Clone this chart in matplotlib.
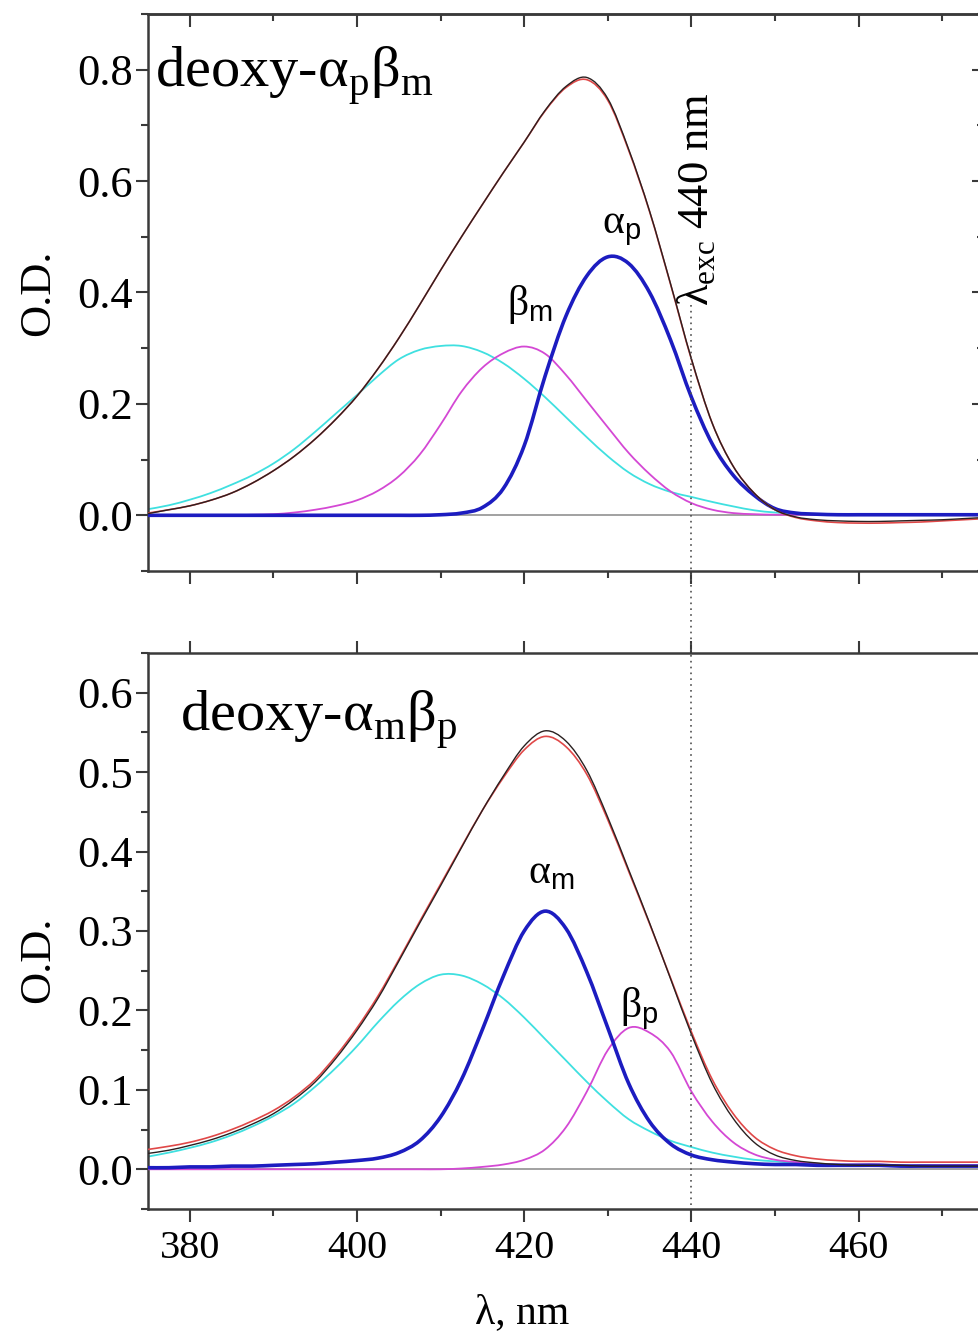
import numpy as np
import matplotlib
matplotlib.use("Agg")
import matplotlib.pyplot as plt
from matplotlib.ticker import MultipleLocator
from matplotlib.lines import Line2D
from matplotlib.path import Path
from matplotlib.patches import PathPatch
from matplotlib.transforms import blended_transform_factory

plt.rcParams['font.family'] = ['Liberation Serif', 'DejaVu Serif']
plt.rcParams['mathtext.fontset'] = 'custom'
plt.rcParams['mathtext.rm'] = 'Liberation Serif'
plt.rcParams['mathtext.sf'] = 'Liberation Sans'

# comprimento de onda (nm), passo de 2.5 nm
wl = np.arange(375, 475.1, 2.5)

# painel superior: deoxy-alpha_p beta_m
top_exp = [0.003, 0.010, 0.017, 0.027, 0.040, 0.058, 0.080, 0.106, 0.137, 0.173,
           0.214, 0.263, 0.318, 0.378, 0.440, 0.500, 0.558, 0.615, 0.670, 0.727,
           0.770, 0.786, 0.748, 0.657, 0.546, 0.416, 0.281, 0.165, 0.088, 0.040,
           0.010, -0.003, -0.008, -0.010, -0.011, -0.011, -0.010, -0.009, -0.008, -0.006, -0.004]
top_fit = [0.004, 0.010, 0.017, 0.027, 0.040, 0.058, 0.080, 0.106, 0.137, 0.173,
           0.214, 0.263, 0.318, 0.378, 0.440, 0.500, 0.558, 0.615, 0.670, 0.726,
           0.768, 0.782, 0.745, 0.655, 0.545, 0.415, 0.280, 0.165, 0.088, 0.040,
           0.010, -0.004, -0.010, -0.013, -0.014, -0.014, -0.013, -0.012, -0.010, -0.008, -0.006]
top_cyan = [0.011, 0.018, 0.028, 0.040, 0.055, 0.072, 0.093, 0.119, 0.150, 0.183,
            0.216, 0.250, 0.280, 0.297, 0.304, 0.304, 0.293, 0.273, 0.245, 0.212,
            0.176, 0.140, 0.106, 0.077, 0.056, 0.042, 0.033, 0.024, 0.016, 0.009,
            0.005, 0.003, 0.002, 0.001, 0.001, 0.001, 0.001, 0.001, 0.001, 0.001, 0.001]
top_mag = [0.0, 0.0, 0.0, 0.0, 0.0, 0.001, 0.002, 0.005, 0.010, 0.017,
           0.027, 0.044, 0.070, 0.109, 0.163, 0.222, 0.265, 0.291, 0.303, 0.290,
           0.252, 0.205, 0.158, 0.112, 0.074, 0.043, 0.022, 0.010, 0.004, 0.002,
           0.001, 0.001, 0.001, 0.001, 0.001, 0.001, 0.001, 0.001, 0.001, 0.001, 0.001]
top_blue = [0.0, 0.0, 0.0, 0.0, 0.0, 0.0, 0.0, 0.0, 0.0, 0.0,
            0.0, 0.0, 0.0, 0.0, 0.001, 0.004, 0.014, 0.048, 0.125, 0.250,
            0.358, 0.430, 0.464, 0.452, 0.400, 0.315, 0.212, 0.128, 0.072, 0.036,
            0.012, 0.004, 0.002, 0.001, 0.001, 0.001, 0.001, 0.001, 0.001, 0.001, 0.001]

# painel inferior: deoxy-alpha_m beta_p
bot_exp = [0.020, 0.024, 0.030, 0.037, 0.046, 0.057, 0.070, 0.088, 0.110, 0.140,
           0.175, 0.215, 0.262, 0.310, 0.357, 0.405, 0.452, 0.495, 0.533, 0.552,
           0.539, 0.502, 0.443, 0.377, 0.310, 0.240, 0.170, 0.108, 0.064, 0.034,
           0.018, 0.011, 0.008, 0.006, 0.005, 0.005, 0.005, 0.004, 0.004, 0.004, 0.004]
bot_fit = [0.025, 0.029, 0.034, 0.041, 0.050, 0.061, 0.074, 0.091, 0.113, 0.143,
           0.178, 0.218, 0.264, 0.312, 0.359, 0.406, 0.452, 0.493, 0.528, 0.545,
           0.532, 0.497, 0.440, 0.375, 0.309, 0.241, 0.173, 0.113, 0.070, 0.041,
           0.025, 0.017, 0.013, 0.011, 0.010, 0.010, 0.009, 0.009, 0.009, 0.009, 0.009]
bot_cyan = [0.016, 0.021, 0.027, 0.034, 0.043, 0.054, 0.067, 0.083, 0.104, 0.128,
            0.155, 0.185, 0.212, 0.233, 0.245, 0.244, 0.233, 0.215, 0.191, 0.164,
            0.137, 0.110, 0.085, 0.063, 0.048, 0.036, 0.028, 0.021, 0.016, 0.012,
            0.010, 0.008, 0.007, 0.006, 0.005, 0.005, 0.005, 0.005, 0.004, 0.004, 0.004]
bot_blue = [0.002, 0.002, 0.003, 0.003, 0.004, 0.004, 0.005, 0.006, 0.007, 0.009,
            0.011, 0.014, 0.021, 0.036, 0.066, 0.113, 0.176, 0.243, 0.300, 0.325,
            0.303, 0.248, 0.178, 0.108, 0.060, 0.032, 0.018, 0.012, 0.009, 0.007,
            0.006, 0.006, 0.005, 0.005, 0.005, 0.005, 0.004, 0.004, 0.004, 0.004, 0.004]
bot_mag = [0.0, 0.0, 0.0, 0.0, 0.0, 0.0, 0.0, 0.0, 0.0, 0.0,
           0.0, 0.0, 0.0, 0.0, 0.0, 0.001, 0.003, 0.006, 0.012, 0.025,
           0.053, 0.098, 0.150, 0.178, 0.172, 0.148, 0.098, 0.060, 0.034, 0.019,
           0.012, 0.009, 0.007, 0.006, 0.006, 0.006, 0.005, 0.005, 0.005, 0.005, 0.005]

lam_exc = 440

c_exp = '#2a2020'
c_fit = '#e04848'
c_cyan = '#3fe0e0'
c_mag = '#d448d4'
c_blue = '#1c1cc0'
c_axis = '#3a3a3a'

fig = plt.figure(figsize=(9.79, 13.42), dpi=100)
ax1 = fig.add_axes([148/979, 1 - 571/1342, 836/979, 557/1342])
ax2 = fig.add_axes([148/979, 1 - 1209/1342, 836/979, 556/1342])


def curva(ax, x, y, **kw):
    # curva suave passando pelos pontos lidos (Catmull-Rom -> Bezier)
    pts = np.column_stack([np.asarray(x, float), np.asarray(y, float)])
    ext = np.vstack([pts[0], pts, pts[-1]])
    verts = [pts[0]]
    codes = [Path.MOVETO]
    for i in range(len(pts) - 1):
        p0, p1, p2, p3 = ext[i], ext[i + 1], ext[i + 2], ext[i + 3]
        verts += [p1 + (p2 - p0) / 6, p2 - (p3 - p1) / 6, p2]
        codes += [Path.CURVE4] * 3
    ax.add_patch(PathPatch(Path(verts, codes), fill=False, capstyle='round', **kw))


def desenha(ax, exp, fit, cyan, mag, blue):
    ax.axhline(0, color='#9a9a9a', lw=1.3, zorder=1)
    curva(ax, wl, cyan, edgecolor=c_cyan, lw=1.3, zorder=2)
    curva(ax, wl, mag, edgecolor=c_mag, lw=1.3, zorder=3)
    curva(ax, wl, blue, edgecolor=c_blue, lw=2.6, zorder=4)
    curva(ax, wl, fit, edgecolor=c_fit, lw=1.2, zorder=5)
    curva(ax, wl, exp, edgecolor=c_exp, lw=1.0, zorder=6)
    ax.set_xlim(375, 475)
    ax.xaxis.set_major_locator(MultipleLocator(20))
    ax.xaxis.set_minor_locator(MultipleLocator(10))
    for s in ax.spines.values():
        s.set_color(c_axis)
        s.set_linewidth(1.8)
    ax.tick_params(which='both', direction='out', color=c_axis, width=1.5)
    ax.tick_params(which='major', length=9)
    ax.tick_params(which='minor', length=5)
    ax.tick_params(axis='x', labelsize=29, pad=6)
    ax.tick_params(axis='y', labelsize=32, pad=2)
    ax.set_ylabel("O.D.", fontsize=32)


desenha(ax1, top_exp, top_fit, top_cyan, top_mag, top_blue)
desenha(ax2, bot_exp, bot_fit, bot_cyan, bot_mag, bot_blue)

# painel superior
ax1.set_ylim(-0.1, 0.9)
ax1.yaxis.set_major_locator(MultipleLocator(0.2))
ax1.yaxis.set_minor_locator(MultipleLocator(0.1))
ax1.yaxis.set_major_formatter('{x:.1f}')
ax1.tick_params(axis='x', labelbottom=False)
ax1.spines['right'].set_visible(False)
sx = ax1.secondary_xaxis('top')
sx.xaxis.set_major_locator(MultipleLocator(20))
sx.xaxis.set_minor_locator(MultipleLocator(10))
sx.tick_params(which='both', direction='in', labeltop=False, color=c_axis, width=1.5)
sx.tick_params(which='major', length=9)
sx.tick_params(which='minor', length=5)
sx.spines['top'].set_color(c_axis)
sx.spines['top'].set_linewidth(1.8)
sy = ax1.secondary_yaxis('right')
sy.yaxis.set_major_locator(MultipleLocator(0.2))
sy.yaxis.set_minor_locator(MultipleLocator(0.1))
sy.tick_params(which='both', direction='in', labelright=False, color=c_axis, width=1.5)
sy.tick_params(which='major', length=9)
sy.tick_params(which='minor', length=5)
sy.spines['right'].set_visible(False)
ax1.yaxis.set_label_coords(-0.108, 0.5)

ax1.text(375.8, 0.768, r'deoxy-α$_{\mathrm{p}}$β$_{\mathrm{m}}$', fontsize=42)
ax1.text(418.0, 0.36, r'β$_{\mathsf{m}}$', fontsize=30)
ax1.text(429.3, 0.507, r'α$_{\mathsf{p}}$', fontsize=30)
ax1.text(lam_exc + 0.6, 0.375, r'λ$_{\mathrm{exc}}$ 440 nm', fontsize=32,
         rotation=90, ha='center', va='bottom')

# painel inferior
ax2.set_ylim(-0.05, 0.65)
ax2.yaxis.set_major_locator(MultipleLocator(0.1))
ax2.yaxis.set_minor_locator(MultipleLocator(0.05))
ax2.yaxis.set_major_formatter('{x:.1f}')
ax2.tick_params(axis='x', top=True)
ax2.spines['right'].set_visible(False)
ax2.set_xlabel("λ, nm", fontsize=30)
ax2.xaxis.set_label_coords(0.447, -0.152)
ax2.yaxis.set_label_coords(-0.108, 0.448)

ax2.text(378.8, 0.551, r'deoxy-α$_{\mathrm{m}}$β$_{\mathrm{p}}$', fontsize=42)
ax2.text(420.4, 0.36, r'α$_{\mathsf{m}}$', fontsize=30)
ax2.text(431.5, 0.192, r'β$_{\mathsf{p}}$', fontsize=30)

# linha pontilhada em 440 nm atravessando os dois paineis
tr = blended_transform_factory(ax2.transData, fig.transFigure)
fig.add_artist(Line2D([lam_exc, lam_exc], [1 - 305/1342, 1 - 1209/1342],
                      transform=tr, color='#505050', lw=1.2, ls=(0, (1, 2.5))))

plt.savefig("out.png", dpi=100)
plt.close()
